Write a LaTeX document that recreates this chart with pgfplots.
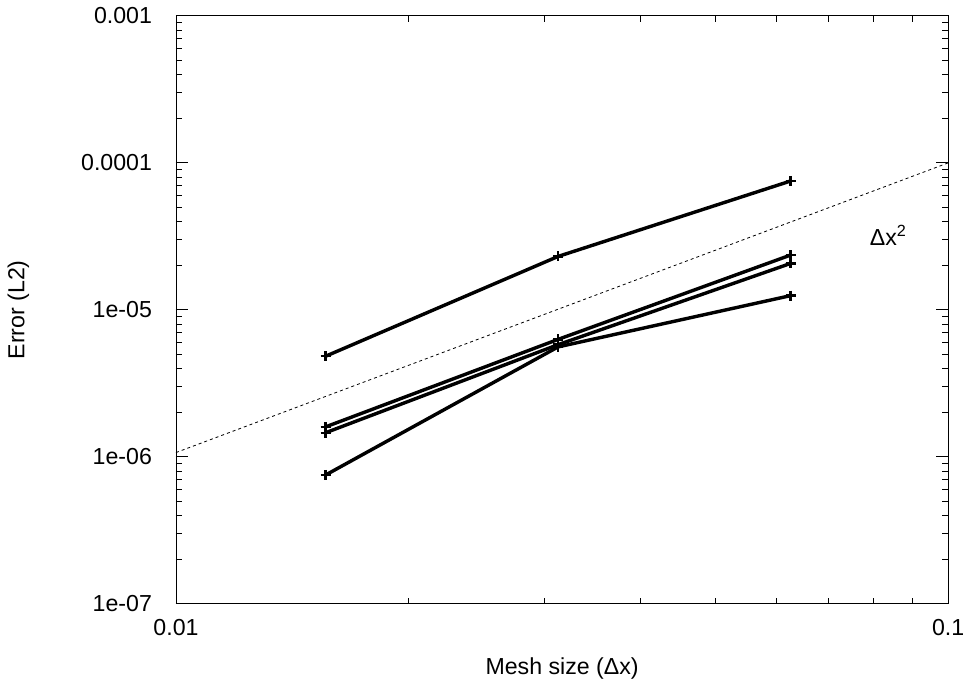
\documentclass[border=0pt]{standalone}
\usepackage{pgfplots}
\pgfplotsset{compat=1.18}
\usepackage{fontspec}
\setmainfont{Liberation Sans}
\begin{document}
\fontsize{23}{27}\selectfont
\begin{tikzpicture}
\begin{axis}[
  scale only axis, width=767pt, height=584pt,
  xmode=log, ymode=log,
  xmin=0.01, xmax=0.1, ymin=1e-7, ymax=1e-3,
  xtick={0.01,0.1}, xticklabels={0.01,0.1},
  ytick={1e-7,1e-6,1e-5,1e-4,1e-3},
  yticklabels={1e-07,1e-06,1e-05,0.0001,0.001},
  xminorticks=true, yminorticks=true,
  /pgf/number format/assume math mode=true,
  tick align=inside, major tick length=12pt, minor tick length=6pt,
  major tick style={black, line width=0.9pt},
  minor tick style={black, line width=0.9pt},
  xlabel={Mesh size (Δx)}, ylabel={Error (L2)},
  axis line style={line width=0.9pt},
  yticklabel style={xshift=-16pt},
  xticklabel style={yshift=-8pt},
  xlabel style={yshift=-6pt}, ylabel style={yshift=36pt},
]
\addplot[black, dashed, line width=0.8pt] coordinates {(0.01,1.07e-6) (0.1,1e-4)};
\node[anchor=center] at (axis cs:0.0836,3.2e-5) {Δx\textsuperscript{2}};
\addplot[black, line width=3.4pt, mark=+, mark size=5pt, mark options={line width=2.4pt}] coordinates {(0.015625,4.84e-6) (0.03125,2.31e-5) (0.0625,7.53e-5)};
\addplot[black, line width=3.4pt, mark=+, mark size=5pt, mark options={line width=2.4pt}] coordinates {(0.015625,1.6e-6) (0.03125,6.3e-6) (0.0625,2.36e-5)};
\addplot[black, line width=3.4pt, mark=+, mark size=5pt, mark options={line width=2.4pt}] coordinates {(0.015625,1.46e-6) (0.03125,5.8e-6) (0.0625,2.07e-5)};
\addplot[black, line width=3.4pt, mark=+, mark size=5pt, mark options={line width=2.4pt}] coordinates {(0.015625,7.53e-7) (0.03125,5.6e-6) (0.0625,1.25e-5)};
\end{axis}
\end{tikzpicture}
\end{document}
